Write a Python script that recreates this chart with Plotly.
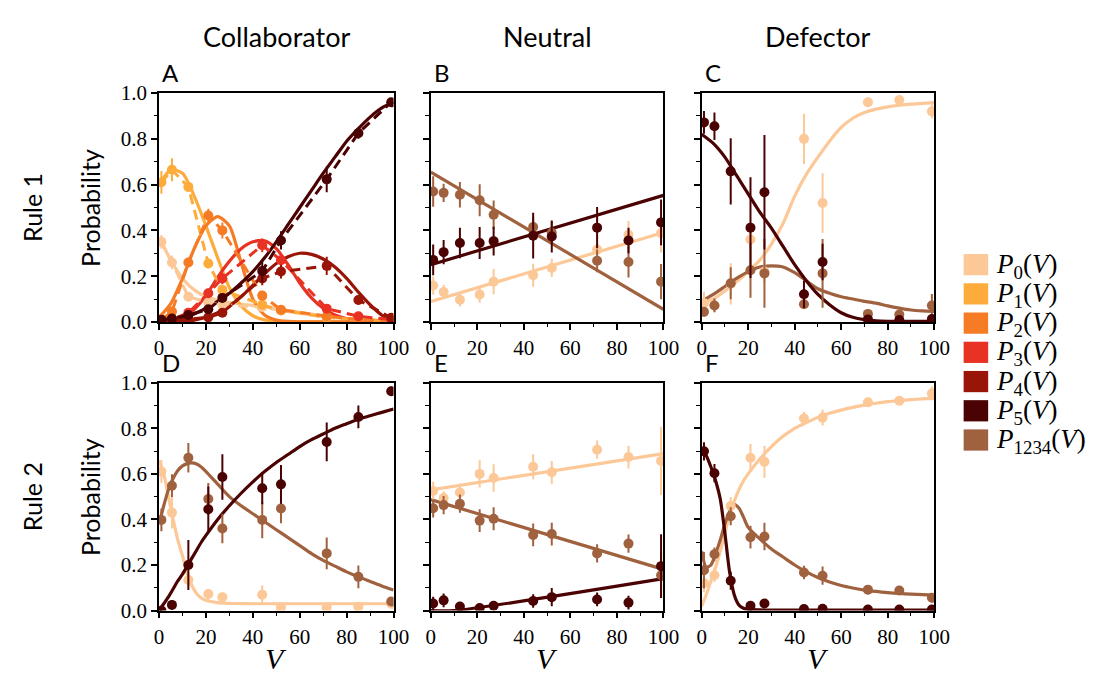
import plotly.graph_objects as go

W, H = 1117, 695

# ---------------- data ----------------
V = [1, 5.5, 12.5, 21, 27, 44, 52, 71.5, 85, 99]
G5 = [0, 5, 10, 15, 20, 25, 30, 35, 40, 45, 50, 55, 60, 65, 70, 75, 80, 85, 90, 95, 100]
GF = [0, 2, 4, 6, 8, 10, 12, 14, 16, 18, 20, 25, 30, 35, 40, 45, 50, 55, 60, 65, 70, 75, 80, 85, 90, 95, 100]
LINE_V = [0, 100]
E_P5_LINE_V = [0, 10, 100]

# Panel A (Rule 1, Collaborator)
a_p0 = [0.35, 0.26, 0.11, 0.085, 0.075, 0.065, 0.05, 0.02, 0.01, 0.01]
a_e0 = [0.03, 0.03, 0.015, 0.01, 0.01, 0.01, 0.01, 0.005, 0.005, 0.005]
a_p1 = [0.61, 0.665, 0.59, 0.255, 0.14, 0.075, 0.05, 0.02, 0.01, 0.005]
a_e1 = [0.05, 0.05, 0.02, 0.02, 0.02, 0.01, 0.01, 0.005, 0.005, 0.005]
a_p2 = [0.01, 0.045, 0.26, 0.465, 0.40, 0.115, 0.053, 0.025, 0.01, 0.005]
a_e2 = [0.01, 0.015, 0.02, 0.03, 0.035, 0.02, 0.01, 0.005, 0.005, 0.005]
a_p3 = [0.0, 0.01, 0.04, 0.125, 0.19, 0.335, 0.27, 0.058, 0.025, 0.01]
a_e3 = [0.005, 0.01, 0.015, 0.02, 0.025, 0.03, 0.03, 0.015, 0.01, 0.005]
a_p4 = [0.0, 0.005, 0.01, 0.02, 0.04, 0.19, 0.22, 0.245, 0.096, 0.018]
a_e4 = [0.005, 0.005, 0.01, 0.01, 0.015, 0.03, 0.03, 0.04, 0.02, 0.01]
a_p5 = [0.01, 0.015, 0.03, 0.055, 0.105, 0.222, 0.356, 0.623, 0.825, 0.96]
a_e5 = [0.005, 0.005, 0.01, 0.015, 0.02, 0.05, 0.04, 0.056, 0.025, 0.01]

a_f0 = [0.37, 0.27, 0.19, 0.14, 0.11, 0.095, 0.085, 0.078, 0.072, 0.066, 0.058, 0.05, 0.042,
        0.034, 0.027, 0.02, 0.015, 0.011, 0.008, 0.005, 0.003]
a_f1 = [0.6, 0.665, 0.65, 0.55, 0.42, 0.28, 0.15, 0.07, 0.027, 0.009, 0.003, 0.001, 0.0,
        0.0, 0.0, 0.0, 0.0, 0.0, 0.0, 0.0, 0.0]
a_f2 = [0.02, 0.08, 0.19, 0.32, 0.42, 0.46, 0.42, 0.26, 0.1, 0.03, 0.008, 0.002, 0.0,
        0.0, 0.0, 0.0, 0.0, 0.0, 0.0, 0.0, 0.0]
a_f3 = [0.0, 0.004, 0.018, 0.055, 0.115, 0.195, 0.265, 0.32, 0.35, 0.355, 0.32, 0.25, 0.17,
        0.105, 0.06, 0.03, 0.014, 0.006, 0.002, 0.001, 0.0]
a_f4 = [0.0, 0.0, 0.002, 0.008, 0.02, 0.04, 0.07, 0.11, 0.16, 0.21, 0.255, 0.285, 0.3,
        0.295, 0.275, 0.24, 0.19, 0.13, 0.075, 0.03, 0.005]
a_f5 = [0.003, 0.01, 0.02, 0.035, 0.06, 0.09, 0.125, 0.17, 0.22, 0.28, 0.35, 0.425, 0.5,
        0.575, 0.65, 0.72, 0.79, 0.845, 0.895, 0.935, 0.96]

# Panel B (Rule 1, Neutral)
b_p0 = [0.159, 0.131, 0.097, 0.12, 0.176, 0.204, 0.236, 0.316, 0.381, 0.388]
b_e0 = [0.04, 0.03, 0.03, 0.035, 0.055, 0.05, 0.04, 0.03, 0.06, 0.085]
b_p1234 = [0.57, 0.564, 0.556, 0.532, 0.468, 0.415, 0.39, 0.267, 0.262, 0.176]
b_e1234 = [0.067, 0.04, 0.056, 0.07, 0.063, 0.045, 0.05, 0.05, 0.068, 0.077]
b_p5 = [0.271, 0.305, 0.345, 0.345, 0.353, 0.377, 0.373, 0.412, 0.356, 0.435]
b_e5 = [0.067, 0.053, 0.067, 0.07, 0.063, 0.1, 0.07, 0.09, 0.056, 0.1]
b_f0 = [0.089, 0.391]
b_f1234 = [0.655, 0.055]
b_f5 = [0.25, 0.553]

# Panel C (Rule 1, Defector)
c_p0 = [0.082, 0.072, 0.166, 0.36, 0.22, 0.80, 0.52, 0.96, 0.97, 0.92]
c_e0 = [0.05, 0.03, 0.09, 0.04, 0.05, 0.11, 0.13, 0.01, 0.01, 0.03]
c_p1234 = [0.044, 0.072, 0.169, 0.226, 0.212, 0.077, 0.212, 0.035, 0.032, 0.072]
c_e1234 = [0.02, 0.03, 0.07, 0.12, 0.15, 0.02, 0.15, 0.01, 0.01, 0.05]
c_p5 = [0.872, 0.855, 0.658, 0.412, 0.567, 0.121, 0.262, 0.011, 0.008, 0.013]
c_e5 = [0.05, 0.06, 0.145, 0.22, 0.25, 0.06, 0.08, 0.005, 0.005, 0.005]
c_f0 = [0.08, 0.1, 0.135, 0.175, 0.22, 0.27, 0.34, 0.43, 0.55, 0.645, 0.72, 0.79, 0.85,
        0.89, 0.915, 0.93, 0.94, 0.947, 0.952, 0.955, 0.958]
c_f1234 = [0.09, 0.12, 0.155, 0.19, 0.22, 0.24, 0.245, 0.24, 0.215, 0.18, 0.145, 0.125, 0.11,
           0.1, 0.09, 0.082, 0.07, 0.06, 0.052, 0.048, 0.046]
c_f5 = [0.82, 0.78, 0.72, 0.64, 0.56, 0.48, 0.41, 0.33, 0.25, 0.18, 0.12, 0.075, 0.04,
        0.02, 0.01, 0.005, 0.003, 0.002, 0.002, 0.002, 0.002]

# Panel D (Rule 2, Collaborator)
d_p0 = [0.61, 0.43, 0.134, 0.073, 0.059, 0.07, 0.014, 0.014, 0.017, 0.03]
d_e0 = [0.05, 0.07, 0.03, 0.02, 0.02, 0.04, 0.01, 0.01, 0.01, 0.01]
d_p1234 = [0.398, 0.548, 0.671, 0.49, 0.36, 0.398, 0.448, 0.251, 0.148, 0.04]
d_e1234 = [0.05, 0.05, 0.065, 0.07, 0.065, 0.08, 0.065, 0.07, 0.05, 0.02]
d_p5 = [0.0, 0.025, 0.2, 0.445, 0.586, 0.537, 0.554, 0.74, 0.85, 0.963]
d_e5 = [0.01, 0.02, 0.11, 0.1, 0.1, 0.07, 0.085, 0.085, 0.05, 0.02]
d_f0 = [0.66, 0.6, 0.5, 0.4, 0.31, 0.24, 0.16, 0.11, 0.075, 0.055, 0.045,
        0.035, 0.032, 0.031, 0.03, 0.03, 0.03, 0.03, 0.03, 0.03, 0.03, 0.03, 0.03, 0.03, 0.03, 0.03, 0.03]
d_f1234 = [0.38, 0.46, 0.53, 0.58, 0.615, 0.635, 0.645, 0.648, 0.643, 0.63, 0.61,
           0.555, 0.5, 0.46, 0.425, 0.39, 0.355, 0.32, 0.285, 0.25, 0.22, 0.195, 0.17, 0.148, 0.128, 0.108, 0.09]
d_f5 = [0.0, 0.03, 0.06, 0.095, 0.13, 0.16, 0.195, 0.23, 0.265, 0.3, 0.33,
        0.4, 0.46, 0.515, 0.565, 0.61, 0.65, 0.685, 0.72, 0.75, 0.775, 0.8, 0.82, 0.84, 0.855, 0.87, 0.885]

# Panel E (Rule 2, Neutral)
e_p0 = [0.525, 0.494, 0.518, 0.6, 0.582, 0.631, 0.607, 0.706, 0.674, 0.657]
e_e0 = [0.04, 0.03, 0.04, 0.06, 0.06, 0.055, 0.05, 0.04, 0.05, 0.15]
e_p1234 = [0.449, 0.463, 0.469, 0.395, 0.403, 0.332, 0.336, 0.251, 0.294, 0.155]
e_e1234 = [0.04, 0.04, 0.04, 0.05, 0.05, 0.05, 0.05, 0.04, 0.04, 0.1]
e_p5 = [0.031, 0.045, 0.018, 0.011, 0.021, 0.042, 0.059, 0.049, 0.035, 0.195]
e_e5 = [0.03, 0.03, 0.01, 0.01, 0.015, 0.03, 0.04, 0.03, 0.03, 0.14]
e_f0 = [0.53, 0.689]
e_f1234 = [0.487, 0.181]
e_f5 = [0.0, 0.0, 0.14]

# Panel F (Rule 2, Defector)
f_p0 = [0.12, 0.155, 0.459, 0.671, 0.653, 0.843, 0.847, 0.914, 0.921, 0.953]
f_e0 = [0.04, 0.03, 0.04, 0.06, 0.07, 0.03, 0.035, 0.02, 0.02, 0.03]
f_p1234 = [0.177, 0.247, 0.414, 0.322, 0.325, 0.167, 0.153, 0.092, 0.088, 0.056]
f_e1234 = [0.08, 0.03, 0.04, 0.05, 0.06, 0.03, 0.04, 0.02, 0.02, 0.02]
f_p5 = [0.699, 0.603, 0.131, 0.021, 0.031, 0.007, 0.008, 0.005, 0.005, 0.005]
f_e5 = [0.04, 0.04, 0.04, 0.01, 0.015, 0.005, 0.005, 0.005, 0.005, 0.005]
f_f0 = [0.02, 0.07, 0.13, 0.19, 0.26, 0.34, 0.42, 0.48, 0.53, 0.57, 0.6,
        0.665, 0.72, 0.765, 0.8, 0.825, 0.848, 0.866, 0.88, 0.892, 0.902, 0.91, 0.917, 0.922, 0.926, 0.929, 0.931]
f_f1234 = [0.26, 0.19, 0.2, 0.25, 0.31, 0.38, 0.435, 0.465, 0.45, 0.41, 0.365,
           0.315, 0.27, 0.235, 0.2, 0.17, 0.145, 0.125, 0.11, 0.099, 0.09, 0.084, 0.079, 0.075, 0.072, 0.07, 0.068]
f_f5 = [0.71, 0.68, 0.63, 0.57, 0.49, 0.34, 0.17, 0.07, 0.025, 0.01, 0.005,
        0.003, 0.002, 0.002, 0.002, 0.002, 0.002, 0.002, 0.002, 0.002, 0.002, 0.002, 0.002, 0.002, 0.002, 0.002, 0.002]

COL_TITLES = ["Collaborator", "Neutral", "Defector"]
ROW_TITLES = ["Rule 1", "Rule 2"]
PANEL_LETTERS = ["A", "B", "C", "D", "E", "F"]
LEGEND_KEYS = ["p0", "p1", "p2", "p3", "p4", "p5", "p1234"]
LEGEND_LABELS = ["<i>P</i><sub>0</sub>(<i>V</i>)", "<i>P</i><sub>1</sub>(<i>V</i>)",
                 "<i>P</i><sub>2</sub>(<i>V</i>)", "<i>P</i><sub>3</sub>(<i>V</i>)",
                 "<i>P</i><sub>4</sub>(<i>V</i>)", "<i>P</i><sub>5</sub>(<i>V</i>)",
                 "<i>P</i><sub>1234</sub>(<i>V</i>)"]

# ---------------- style ----------------
C = {"p0": "#fcc897", "p1": "#fdac3c", "p2": "#f57b24", "p3": "#e83324",
     "p4": "#991507", "p5": "#4a0202", "p1234": "#a0613f"}
SERIF = "Liberation Serif"
SANS = "Lato"

X_DOM = [(157, 396), (434, 671), (710, 947)]
Y_DOM = [(84, 321), (384, 620)]

fig = go.Figure()


def ax_names(i):
    return ("x" if i == 1 else f"x{i}"), ("y" if i == 1 else f"y{i}")


def add_fit(i, xs, ys, color):
    xa, ya = ax_names(i)
    fig.add_trace(go.Scatter(x=xs, y=ys, mode="lines", xaxis=xa, yaxis=ya,
                             line=dict(color=color, width=3.2, shape="spline", smoothing=0.7),
                             showlegend=False, hoverinfo="skip"))


def add_data(i, ys, es, color, dashed=False):
    xa, ya = ax_names(i)
    fig.add_trace(go.Scatter(x=V, y=ys, mode="lines+markers" if dashed else "markers",
                             xaxis=xa, yaxis=ya,
                             line=dict(color=color, width=3, dash="10px,6px"),
                             marker=dict(size=10, color=color),
                             error_y=dict(type="data", array=es, color=color, thickness=2, width=0),
                             showlegend=False))


# Panel A
for ys, k in [(a_f0, "p0"), (a_f1, "p1"), (a_f2, "p2"), (a_f3, "p3"), (a_f4, "p4"), (a_f5, "p5")]:
    add_fit(1, G5, ys, C[k])
for ys, es, k in [(a_p0, a_e0, "p0"), (a_p1, a_e1, "p1"), (a_p2, a_e2, "p2"),
                  (a_p3, a_e3, "p3"), (a_p4, a_e4, "p4"), (a_p5, a_e5, "p5")]:
    add_data(1, ys, es, C[k], dashed=True)

# Panel B
add_fit(2, LINE_V, b_f0, C["p0"])
add_fit(2, LINE_V, b_f1234, C["p1234"])
add_fit(2, LINE_V, b_f5, C["p5"])
add_data(2, b_p0, b_e0, C["p0"])
add_data(2, b_p1234, b_e1234, C["p1234"])
add_data(2, b_p5, b_e5, C["p5"])

# Panel C
add_fit(3, G5, c_f0, C["p0"])
add_fit(3, G5, c_f1234, C["p1234"])
add_fit(3, G5, c_f5, C["p5"])
add_data(3, c_p0, c_e0, C["p0"])
add_data(3, c_p1234, c_e1234, C["p1234"])
add_data(3, c_p5, c_e5, C["p5"])

# Panel D
add_fit(4, GF, d_f0, C["p0"])
add_fit(4, GF, d_f1234, C["p1234"])
add_fit(4, GF, d_f5, C["p5"])
add_data(4, d_p0, d_e0, C["p0"])
add_data(4, d_p1234, d_e1234, C["p1234"])
add_data(4, d_p5, d_e5, C["p5"])

# Panel E
add_fit(5, LINE_V, e_f0, C["p0"])
add_fit(5, LINE_V, e_f1234, C["p1234"])
add_fit(5, E_P5_LINE_V, e_f5, C["p5"])
add_data(5, e_p0, e_e0, C["p0"])
add_data(5, e_p1234, e_e1234, C["p1234"])
add_data(5, e_p5, e_e5, C["p5"])

# Panel F
add_fit(6, GF, f_f0, C["p0"])
add_fit(6, GF, f_f1234, C["p1234"])
add_fit(6, GF, f_f5, C["p5"])
add_data(6, f_p0, f_e0, C["p0"])
add_data(6, f_p1234, f_e1234, C["p1234"])
add_data(6, f_p5, f_e5, C["p5"])

# ---------------- axes ----------------
layout = {}
annotations = []
for i in range(1, 7):
    r, c = (i - 1) // 3, (i - 1) % 3
    x0, x1 = X_DOM[c]
    y0, y1 = Y_DOM[r]
    xk = "xaxis" if i == 1 else f"xaxis{i}"
    yk = "yaxis" if i == 1 else f"yaxis{i}"
    xa, ya = ax_names(i)
    common = dict(showline=True, linecolor="black", linewidth=1.8, mirror=True,
                  ticks="outside", ticklen=6, tickwidth=1.5, tickcolor="black",
                  showgrid=False, zeroline=False,
                  tickfont=dict(family=SERIF, size=21, color="black"))
    layout[xk] = dict(domain=[x0 / W, x1 / W], range=[0, 100], anchor=ya,
                      tickvals=[0, 20, 40, 60, 80, 100],
                      minor=dict(ticks="outside", ticklen=3.5, tickwidth=1.2, tickcolor="black",
                                 tickvals=[10, 30, 50, 70, 90]),
                      **common)
    layout[yk] = dict(domain=[1 - y1 / H, 1 - y0 / H], range=[0, 1], anchor=xa,
                      tickvals=[0, 0.2, 0.4, 0.6, 0.8, 1.0], tickformat=".1f",
                      showticklabels=(c == 0),
                      minor=dict(ticks="outside", ticklen=3.5, tickwidth=1.2, tickcolor="black",
                                 tickvals=[0.1, 0.3, 0.5, 0.7, 0.9]),
                      **common)
    annotations.append(dict(text=PANEL_LETTERS[i - 1], xref="paper", yref="paper",
                            x=(x0 + 1) / W, y=1 - (y0 - 4) / H, xanchor="left", yanchor="bottom",
                            showarrow=False, font=dict(family=SANS, size=24, color="black")))

for c, t in enumerate(COL_TITLES):
    x0, x1 = X_DOM[c]
    annotations.append(dict(text=t, xref="paper", yref="paper", x=(x0 + x1) / 2 / W, y=1 - 25 / H,
                            xanchor="center", yanchor="middle", showarrow=False,
                            font=dict(family=SANS, size=27, color="black")))
    annotations.append(dict(text="<i>V</i>", xref="paper", yref="paper", x=(x0 + x1) / 2 / W,
                            y=1 - 670 / H, xanchor="center", yanchor="middle", showarrow=False,
                            font=dict(family=SERIF, size=30, color="black")))

for r, t in enumerate(ROW_TITLES):
    y0, y1 = Y_DOM[r]
    yc = 1 - (y0 + y1) / 2 / H
    annotations.append(dict(text=t, xref="paper", yref="paper", x=27 / W, y=yc,
                            xanchor="center", yanchor="middle", textangle=-90, showarrow=False,
                            font=dict(family=SANS, size=25, color="black")))
    annotations.append(dict(text="Probability", xref="paper", yref="paper", x=86 / W, y=yc,
                            xanchor="center", yanchor="middle", textangle=-90, showarrow=False,
                            font=dict(family=SANS, size=25, color="black")))

shapes = []
for k, (key, lab) in enumerate(zip(LEGEND_KEYS, LEGEND_LABELS)):
    cy = 261.7 + k * 30.27
    shapes.append(dict(type="rect", xref="paper", yref="paper",
                       x0=977 / W, x1=1002 / W, y0=1 - (cy + 11) / H, y1=1 - (cy - 11) / H,
                       fillcolor=C[key], line=dict(width=0)))
    annotations.append(dict(text=lab, xref="paper", yref="paper", x=1008 / W, y=1 - (cy + 1) / H,
                            xanchor="left", yanchor="middle", showarrow=False,
                            font=dict(family=SERIF, size=27, color="black")))

fig.update_layout(width=W, height=H, margin=dict(l=0, r=0, t=0, b=0),
                  paper_bgcolor="white", plot_bgcolor="white", showlegend=False,
                  annotations=annotations, shapes=shapes, **layout)

fig.write_html("out.html",
               post_script="document.body.style.margin='0';document.body.style.padding='0';"
                           "document.body.style.overflow='hidden';")
